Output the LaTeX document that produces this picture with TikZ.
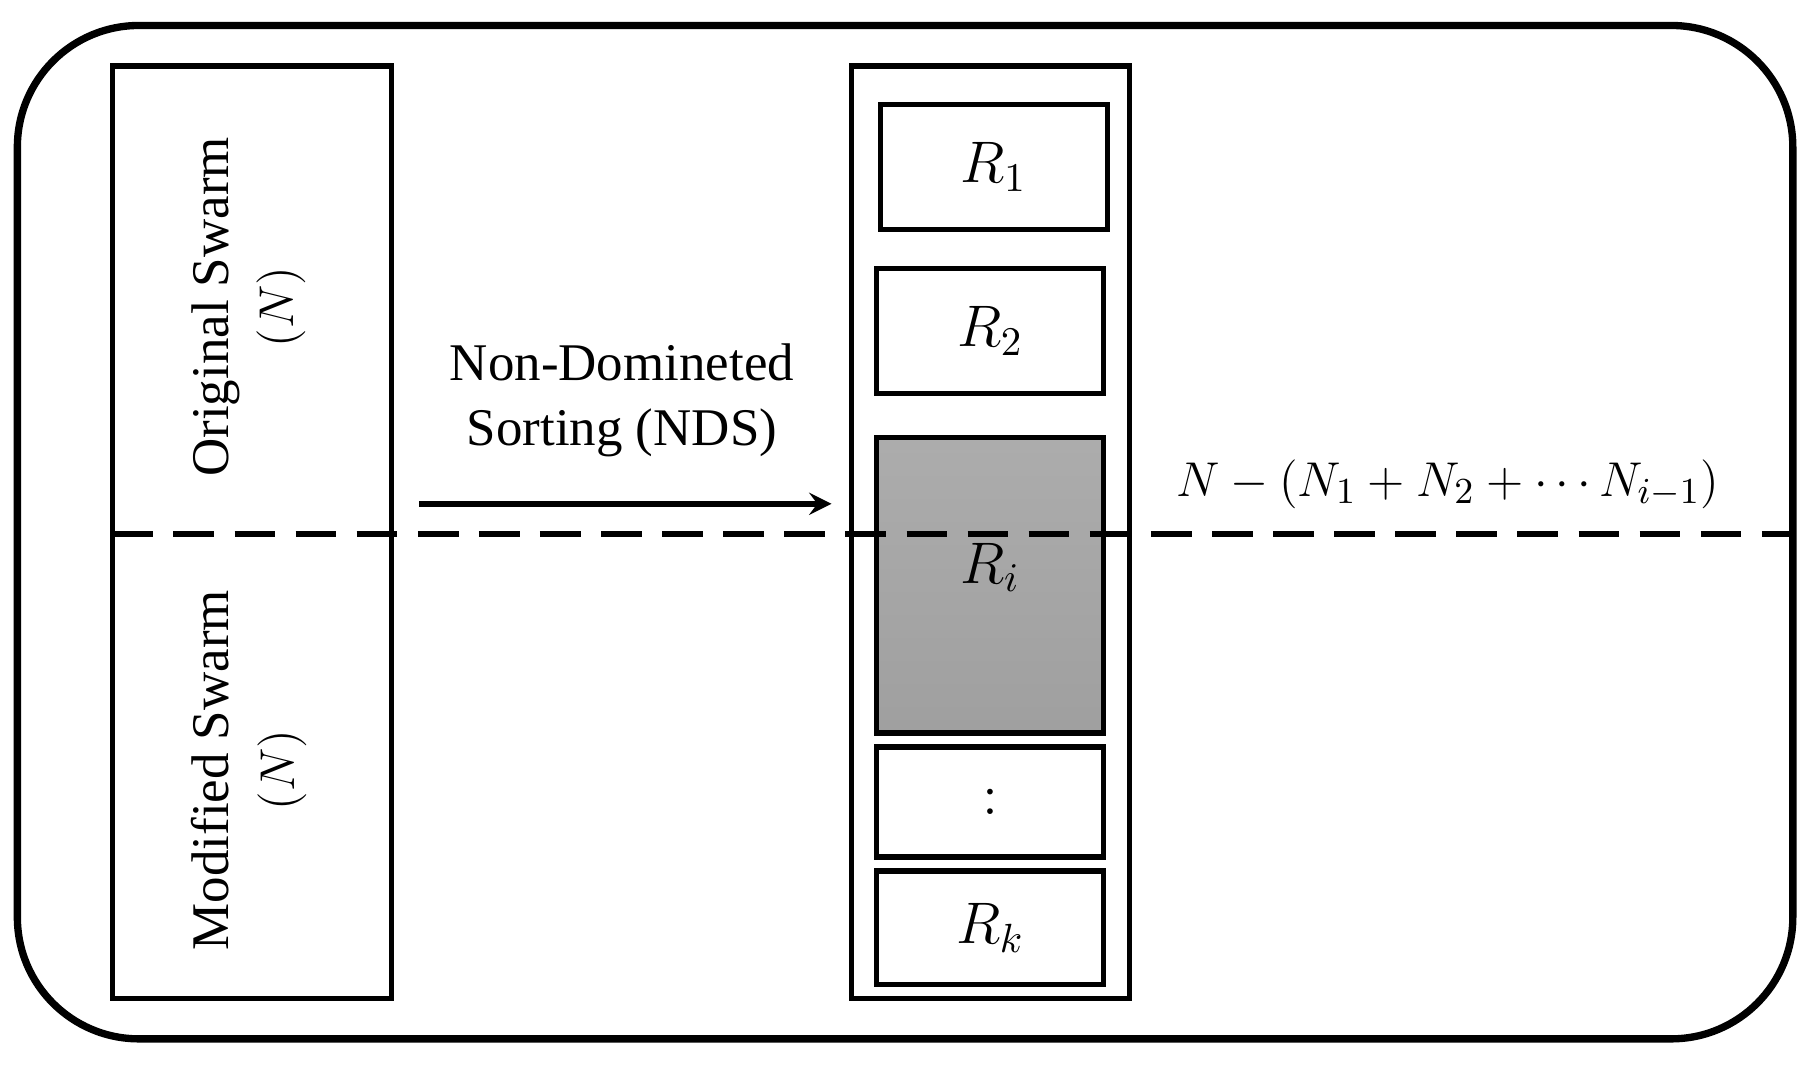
\documentclass[tikz,border=0pt]{standalone}
\usepackage{amsmath}
\usepackage{fontspec}
\setmainfont{Liberation Serif}
\usetikzlibrary{positioning,shadings}

\begin{document}
\begin{tikzpicture}[x=0.01cm,y=-0.01cm,
    box/.style={draw,line width=1.3pt,rectangle,inner sep=0pt},
    level/.style={box,minimum width=196*0.01cm,minimum height=#1*0.01cm,font=\fontsize{14}{16}\selectfont},
    label/.style={font=\fontsize{13}{16}\selectfont,align=center},
    >=stealth]
          \useasboundingbox (0,0) rectangle (1568,922);
          \draw[line width=1.8pt,rounded corners=105*0.01cm] (15,22) rectangle (1548,897);
          \node[box,minimum width=241*0.01cm,minimum height=805*0.01cm](swarm) at (217.5,459.5) {};
          \node[box,minimum width=240*0.01cm,minimum height=805*0.01cm](column) at (855,459.5) {};
          \node[level=108](r1)   at (858,144)   {$R_1$};
          \node[level=108](r2)   at (855,286)   {$R_2$};
          \node[level=255,top color=gray!65,bottom color=gray!75](ri) at (855,505.5) {};
          \node[font=\fontsize{14}{16}\selectfont] at (855,490) {$R_i$};
          \node[level=95](dots)  at (855,692.5) {$:$};
          \node[level=98](rk)    at (855,801)   {$R_k$};
          \node[label,rotate=90](orig) at (215,265) {Original Swarm\\$(N)$};
          \node[label,rotate=90](mod)  at (215,665) {Modified Swarm\\$(N)$};
          \node[label](nds) at (537,346) {Non-Domineted\\Sorting (NDS)};
          \coordinate (from) at (362,435);
          \coordinate (to)   at (718,435);
          \draw[->,line width=1.4pt] (from) -- (to);
          \coordinate (dl) at (97,461);
          \coordinate (dr) at (1548,461);
          \draw[dashed,line width=1.5pt,dash pattern=on 10pt off 5pt] (dl) -- (dr);
          \node[label](rest) at (1250,418) {$N-(N_1+N_2+\cdots N_{i-1})$};
        \end{tikzpicture}
\end{document}
